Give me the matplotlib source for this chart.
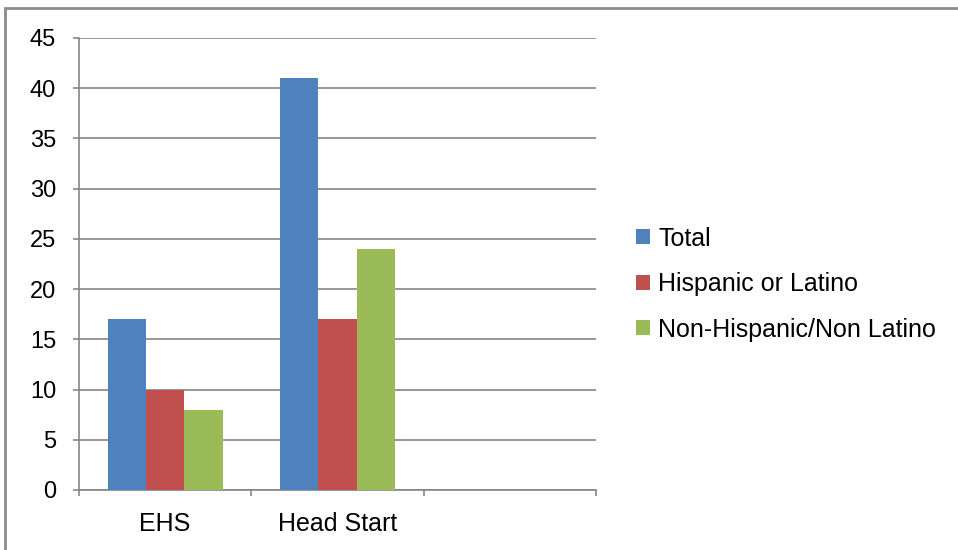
import numpy as np
import matplotlib.pyplot as plt
from matplotlib.patches import Rectangle

categories = ['EHS', 'Head Start', '']
series = ['Total', 'Hispanic or Latino', 'Non-Hispanic/Non Latino']
total = [17, 41, 0]
hispanic = [10, 17, 0]
non_hispanic = [8, 24, 0]
colors = ['#4f81bd', '#c0504d', '#9bbb59']

plt.rcParams['font.family'] = ['Liberation Sans', 'DejaVu Sans']

fig = plt.figure(figsize=(9.58, 5.5), dpi=100)
ax = fig.add_axes([79 / 958, 1 - 490 / 550, (596 - 79) / 958, (490 - 38) / 550])

x = np.arange(len(categories))
w = 0.222
ncat = 2  # third slot is empty
for i, (vals, name) in enumerate(zip([total, hispanic, non_hispanic], series)):
    ax.bar(x[:ncat] + (i - 1) * w, vals[:ncat], w, color=colors[i], label=name, zorder=3)

ax.set_xlim(-0.5, 2.5)
ax.set_ylim(0, 45)
ax.set_yticks(range(0, 50, 5))
ax.yaxis.grid(True, color='#868686', linewidth=1.2, zorder=0)
ax.set_xticks([-0.5, 0.5, 1.5, 2.5], minor=False)
ax.set_xticklabels([])
ax.set_xticks(x, minor=True)
ax.set_xticklabels(categories, minor=True)
ax.tick_params(axis='x', which='minor', length=0, pad=16, labelsize=18)
ax.tick_params(axis='x', which='major', length=4.5, color='#868686', width=1.2)
ax.tick_params(axis='y', length=4.5, color='#868686', width=1.2, labelsize=17, pad=12)
for s in ['top', 'right']:
    ax.spines[s].set_visible(False)
for s in ['left', 'bottom']:
    ax.spines[s].set_color('#868686')
    ax.spines[s].set_linewidth(1.2)

ax.legend(loc='center left', bbox_to_anchor=(636 / 958, 1 - 284 / 550), bbox_transform=fig.transFigure,
          frameon=False, fontsize=18, handlelength=0.55, handleheight=0.55, handletextpad=0.35,
          labelspacing=0.86, borderaxespad=0, borderpad=0)

fig.patches.append(Rectangle((5 / 958, -0.1), 1.1, 1 - 8 / 550 + 0.1, transform=fig.transFigure,
                             fill=False, edgecolor='#8c8c8c', linewidth=2, clip_on=False))

fig.savefig('out.png', dpi=100)
